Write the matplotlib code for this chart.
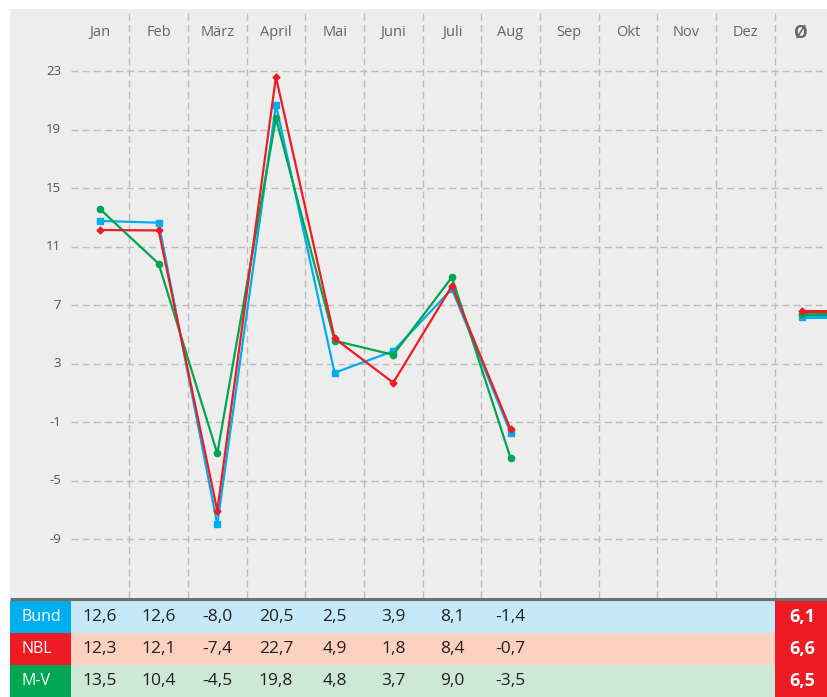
import matplotlib.pyplot as plt
from matplotlib.patches import Rectangle

# data
months = ['Jan', 'Feb', 'März', 'April', 'Mai', 'Juni', 'Juli', 'Aug',
          'Sep', 'Okt', 'Nov', 'Dez']
avg_label = 'Ø'
series = ['Bund', 'NBL', 'M-V']

# values printed in the table
bund = [12.6, 12.6, -8.0, 20.5, 2.5, 3.9, 8.1, -1.4]
nbl = [12.3, 12.1, -7.4, 22.7, 4.9, 1.8, 8.4, -0.7]
mv = [13.5, 10.4, -4.5, 19.8, 4.8, 3.7, 9.0, -3.5]
averages = [6.1, 6.6, 6.5]

# positions of the plotted points (they differ a little from the table)
bund_line = [12.75, 12.63, -8.0, 20.68, 2.37, 3.85, 8.1, -1.73]
nbl_line = [12.13, 12.1, -7.06, 22.6, 4.72, 1.69, 8.3, -1.5]
mv_line = [13.56, 9.83, -3.15, 19.77, 4.56, 3.6, 8.9, -3.46]
avg_line = [6.2, 6.56, 6.4]

yticks = [23, 19, 15, 11, 7, 3, -1, -5, -9]

colors = {'Bund': '#00aeef', 'NBL': '#ed1c24', 'M-V': '#00a651'}
row_bg = {'Bund': '#c6e9f9', 'NBL': '#fdd1c0', 'M-V': '#cde8d5'}
markers = {'Bund': 's', 'NBL': 'D', 'M-V': 'o'}
msizes = {'Bund': 5, 'NBL': 3.5, 'M-V': 4.5}
table_vals = {'Bund': bund, 'NBL': nbl, 'M-V': mv}
line_vals = {'Bund': bund_line, 'NBL': nbl_line, 'M-V': mv_line}

plt.rcParams['font.family'] = ['Open Sans', 'DejaVu Sans']

W, H = 827, 697
fig = plt.figure(figsize=(W / 100, H / 100), dpi=100)
xmin, xmax = -1.534, 12.395

# chart area
ax = fig.add_axes([10 / W, 99 / H, 817 / W, 589 / H])
ax.set_facecolor('#ededed')
ax.set_xlim(xmin, xmax)
ax.set_ylim(-13.03, 27.24)
for s in ax.spines.values():
    s.set_visible(False)
ax.set_xticks([])
ax.set_yticks([])

grid = dict(color='#bcbcbc', lw=1, dashes=(5, 3))
for i in range(12):
    ax.plot([i + 0.5, i + 0.5], [-13.03, 27.0], **grid, zorder=1)
for t in yticks:
    ax.plot([-0.5, xmax], [t, t], **grid, zorder=1)
    ax.text(-0.66, t, str(t), ha='right', va='center', fontsize=9.5,
            color='#555555')

for i, m in enumerate(months):
    ax.text(i, 25.6, m, ha='center', va='center', fontsize=10.5,
            color='#666666')
ax.text(11.95, 25.6, avg_label, ha='center', va='center', fontsize=12.5,
        color='#666666', fontweight='bold')

order = ['Bund', 'M-V', 'NBL']
for name in order:
    v = line_vals[name]
    ax.plot(range(len(v)), v, color=colors[name], lw=1.6,
            marker=markers[name], ms=msizes[name], zorder=3)
for name in order:
    a = avg_line[series.index(name)]
    ax.plot([11.97, xmax], [a, a], color=colors[name], lw=2.2,
            marker=markers[name], ms=msizes[name], markevery=[0],
            zorder=3, clip_on=False, solid_capstyle='butt')

# table
tx = fig.add_axes([10 / W, 0, 817 / W, 99 / H])
tx.set_xlim(xmin, xmax)
tx.set_ylim(3, -0.09)
tx.axis('off')
for r, name in enumerate(series):
    tx.add_patch(Rectangle((-0.5, r), 12.0, 1, color=row_bg[name], lw=0))
    tx.add_patch(Rectangle((xmin, r), -0.5 - xmin, 1, color=colors[name], lw=0))
    tx.add_patch(Rectangle((11.5, r), xmax - 11.5, 1, color='#ed1c24', lw=0))
    tx.text(-1.345, r + 0.5, name, ha='left', va='center', fontsize=11.5,
            color='white')
    for i, v in enumerate(table_vals[name]):
        tx.text(i, r + 0.5, f'{v:.1f}'.replace('.', ','), ha='center',
                va='center', fontsize=12.5, color='#231f20')
    tx.text(11.97, r + 0.5, f'{averages[r]:.1f}'.replace('.', ','),
            ha='center', va='center', fontsize=13, color='white',
            fontweight='bold')
tx.plot([xmin, xmax], [-0.045, -0.045], color='#6d6e71', lw=2.3,
        solid_capstyle='butt')

fig.savefig('out.png', dpi=100)
